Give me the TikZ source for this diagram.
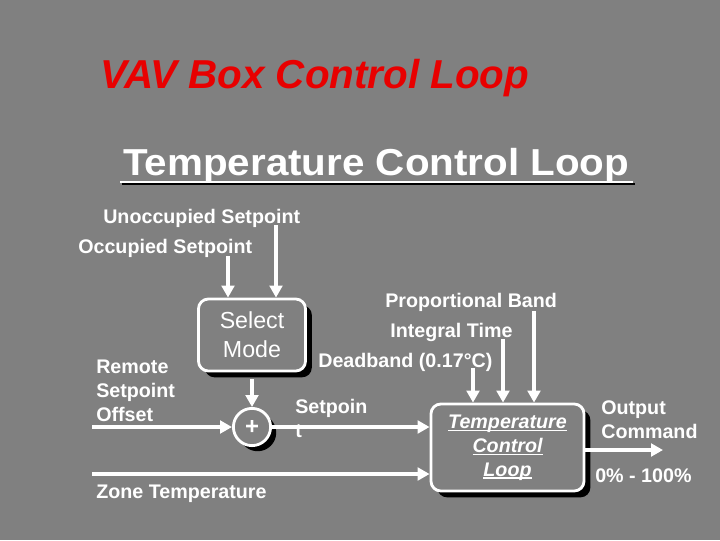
\documentclass[tikz,border=0pt]{standalone}
\usepackage{fontspec}
\setmainfont{Liberation Sans}
\newfontfamily\headfont[FakeStretch=1.075]{Liberation Sans}
\usetikzlibrary{positioning,arrows.meta,shadows,calc}
\definecolor{slate}{RGB}{128,128,128}
\definecolor{alarm}{RGB}{232,0,0}
\newcommand{\tul}[1]{\setbox0\hbox{#1}\rlap{\rule[-2.2pt]{\wd0}{1.3pt}}\box0}
\tikzset{
  block/.style={draw=white, line width=2pt, rounded corners=7pt, fill=slate, text=white, align=center,
                inner sep=2pt,
                drop shadow={shadow xshift=4.5pt, shadow yshift=-4.5pt, fill=black, opacity=1}},
  sumjn/.style={circle, draw=white, line width=2pt, fill=slate, text=white, inner sep=0pt,
                minimum size=0.93cm,
                drop shadow={shadow xshift=4pt, shadow yshift=-4pt, fill=black, opacity=1}},
  flow/.style={-{Triangle[length=8.5pt,width=9pt]}, draw=white, line width=2.8pt},
  lbl/.style={font=\fontsize{14}{17}\selectfont\bfseries, text=white, align=left,
              anchor=base west, inner sep=0pt},
}

\begin{document}
\begin{tikzpicture}[x=0.025cm, y=-0.025cm]
    \fill[slate] (0,0) rectangle (720,540);

    % titles
    \node[anchor=base west, inner sep=0pt, text=alarm,
          font=\fontsize{28.7}{32}\selectfont\bfseries\itshape] (head) at (100,88) {VAV Box Control Loop};
    \node[anchor=base west, inner sep=0pt, text=white,
          font=\headfont\fontsize{26.7}{32}\selectfont\bfseries] (sub) at (123,175) {Temperature Control Loop};
    \draw[black, line width=1.6pt] ($(sub.base west)+(-1,9)$) -- ($(sub.base east)+(5,9)$);
    \draw[white, line width=1.6pt] ($(sub.base west)+(-3,7)$) -- ($(sub.base east)+(3,7)$);

    % blocks
    \node[block, minimum width=2.675cm, minimum height=1.8cm,
          font=\fontsize{16.5}{20.5}\selectfont] (sel) at (252,335) {Select\\Mode};
    \node[sumjn, font=\fontsize{17}{20}\selectfont\bfseries] (sum) at (252,427) {+};
    \node[block, minimum width=3.825cm, minimum height=2.175cm,
          font=\fontsize{14}{17}\selectfont\bfseries\itshape] (tcl) at (507.5,447.5)
          {\tul{Temperature}\\\tul{Control}\\\tul{Loop}};

    % labels (multi-line ones sit on their last baseline)
    \node[lbl] (unocc) at (103,223) {Unoccupied Setpoint};
    \node[lbl] (occ)   at (78,253)  {Occupied Setpoint};
    \node[lbl] (rso)   at (96,421)  {Remote\\Setpoint\\Offset};
    \node[lbl] (zone)  at (96,498)  {Zone Temperature};
    \node[lbl, font=\fontsize{14}{16.5}\selectfont\bfseries] (spt) at (295,437) {Setpoin\\t};
    \node[lbl] (pband) at (385,307) {Proportional Band};
    \node[lbl] (itime) at (390,337) {Integral Time};
    \node[lbl] (dband) at (318,367) {Deadband (0.17°C)};
    \node[lbl] (outc)  at (601,438) {Output\\Command};
    \node[lbl] (range) at (595,482) {0\% - 100\%};

    % free ends
    \coordinate (occ-in)   at (228,256);
    \coordinate (unocc-in) at (276,225);
    \coordinate (rso-in)   at (92,427);
    \coordinate (zone-in)  at (92,474);
    \coordinate (db-in)    at (473,368);
    \coordinate (it-in)    at (503,339);
    \coordinate (pb-in)    at (534,311);
    \coordinate (out-end)  at (663,450);

    \draw[flow] (occ-in) -- (occ-in |- sel.north);
    \draw[flow] (unocc-in) -- (unocc-in |- sel.north);
    \draw[flow, shorten <=5pt] (sel.south) -- (sum.north);
    \draw[flow] (rso-in) -- (sum.west);
    \draw[flow] (sum.east) -- (sum.east -| tcl.west);
    \draw[flow] (zone-in) -- (zone-in -| tcl.west);
    \draw[flow] (db-in) -- (db-in |- tcl.north);
    \draw[flow] (it-in) -- (it-in |- tcl.north);
    \draw[flow] (pb-in) -- (pb-in |- tcl.north);
    \draw[flow] (tcl.east |- out-end) -- (out-end);
  \end{tikzpicture}
\end{document}
